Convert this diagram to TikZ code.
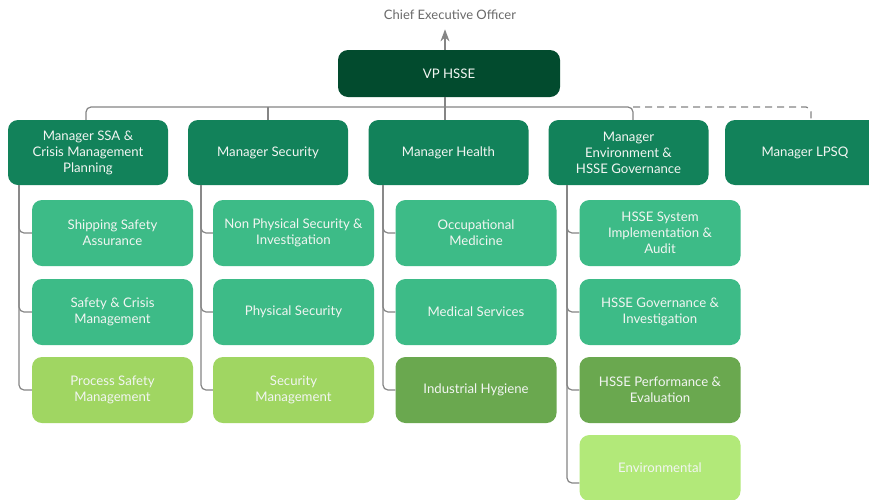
\documentclass[tikz,border=0pt]{standalone}
\usepackage{fontspec}
\setmainfont{Lato}
\usetikzlibrary{arrows.meta,calc}
\definecolor{vpc}{HTML}{024B2E}
\definecolor{mgc}{HTML}{12825A}
\definecolor{tealc}{HTML}{3DBB87}
\definecolor{limec}{HTML}{A0D662}
\definecolor{olivec}{HTML}{6AA84F}
\definecolor{palec}{HTML}{B2E979}
\definecolor{linec}{HTML}{858585}
\definecolor{ceoc}{HTML}{6A6A6A}
\definecolor{txtc}{HTML}{F2F5F2}
\tikzset{
  box/.style={rectangle, rounded corners=10pt, draw=none, text=txtc, align=center,
    font=\fontsize{13.2}{16}\selectfont, inner sep=0pt},
  vpbox/.style={box, fill=vpc, minimum width=222pt, minimum height=47pt},
  mgbox/.style={box, fill=mgc, minimum width=160pt, minimum height=65pt},
  chbox/.style={box, minimum width=161pt, minimum height=66pt},
  conn/.style={draw=linec, line width=1.2pt, rounded corners=5pt},
}
\begin{document}
\begin{tikzpicture}[x=1pt,y=-1pt]
\clip (0,0) rectangle (869,499);
\fill[white] (0,0) rectangle (869,499);
% top
\node[text=ceoc, font=\fontsize{13}{16}\selectfont] (ceo) at (450,15) {Chief Executive Officer};
\node[vpbox] (vp) at (449,73.5) {VP HSSE};
% managers
\node[mgbox] (m1) at (88,152.5) {Manager SSA \&\\Crisis Management\\Planning};
\node[mgbox] (m2) at (268,152.5) {Manager Security};
\node[mgbox] (m3) at (448.5,152.5) {Manager Health};
\node[mgbox] (m4) at (628.5,152.5) {Manager\\Environment \&\\HSSE Governance};
\node[mgbox] (m5) at (805,152.5) {Manager LPSQ};
% children col1
\node[chbox, fill=tealc] (a1) at (112.5,233) {Shipping Safety\\Assurance};
\node[chbox, fill=tealc] (a2) at (112.5,312) {Safety \& Crisis\\Management};
\node[chbox, fill=limec] (a3) at (112.5,390) {Process Safety\\Management};
% col2
\node[chbox, fill=tealc] (b1) at (293.5,233) {Non Physical Security \&\\Investigation};
\node[chbox, fill=tealc] (b2) at (293.5,312) {Physical Security};
\node[chbox, fill=limec] (b3) at (293.5,390) {Security\\Management};
% col3
\node[chbox, fill=tealc] (c1) at (476,233) {Occupational\\Medicine};
\node[chbox, fill=tealc] (c2) at (476,312) {Medical Services};
\node[chbox, fill=olivec] (c3) at (476,390) {\raisebox{-2pt}{Industrial Hygiene}};
% col4
\node[chbox, fill=tealc] (d1) at (660,233) {HSSE System\\Implementation \&\\Audit};
\node[chbox, fill=tealc] (d2) at (660,312) {HSSE Governance \&\\Investigation};
\node[chbox, fill=olivec] (d3) at (660,390) {HSSE Performance \&\\Evaluation};
\node[chbox, fill=palec, minimum height=66pt] (d4) at (660,468) {Environmental};
% bus coordinates
\coordinate (p1) at (86,107);
\coordinate (p2) at (268,107);
\coordinate (p3) at (445,107);
\coordinate (p4) at (633,107);
\coordinate (p5) at (811,107);
\coordinate (q1) at (19,0);
\coordinate (q2) at (201,0);
\coordinate (q3) at (383,0);
\coordinate (q4) at (567,0);
\coordinate (e4) at (567,483);
% connectors
\draw[conn, -{Stealth[length=12pt,width=9pt]}] (vp.north -| p3) -- ($(ceo.south -| p3)+(0,6)$);
\draw[conn] (vp.south -| p3) -- (m3.north -| p3);
\draw[conn] (m1.north -| p1) |- (p4) -- (m4.north -| p4);
\draw[conn] (m2.north -| p2) -- (p2);
\draw[conn, dash pattern=on 7pt off 5pt] (p4) -| (m5.north -| p5);
% children connectors
\foreach \c/\q in {a1/q1,a2/q1,a3/q1}{\draw[conn] (m1.south -| \q) |- (\c.west);}
\foreach \c/\q in {b1/q2,b2/q2,b3/q2}{\draw[conn] (m2.south -| \q) |- (\c.west);}
\foreach \c/\q in {c1/q3,c2/q3,c3/q3}{\draw[conn] (m3.south -| \q) |- (\c.west);}
\foreach \c/\q in {d1/q4,d2/q4,d3/q4}{\draw[conn] (m4.south -| \q) |- (\c.west);}
\draw[conn] (m4.south -| q4) |- (e4 -| d4.west);
\end{tikzpicture}
\end{document}
